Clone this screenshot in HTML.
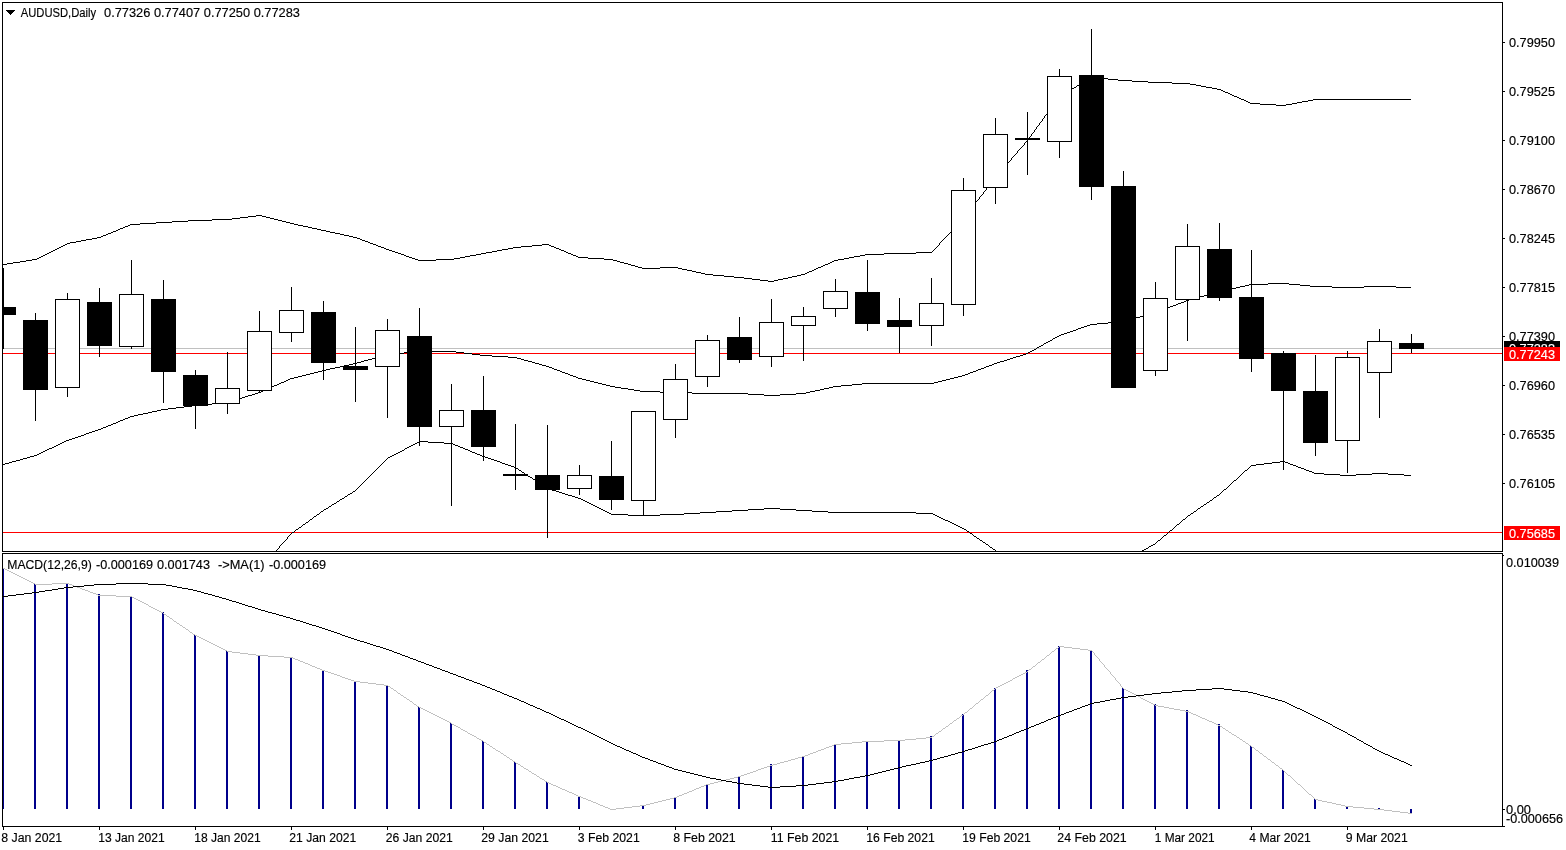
<!DOCTYPE html>
<html lang="en"><head><meta charset="utf-8"><title>AUDUSD,Daily</title>
<style>
html,body{margin:0;padding:0;background:#fff;}
body{width:1566px;height:850px;overflow:hidden;position:relative;}
svg{position:absolute;left:0;top:0;display:block;}
text{font-family:"Liberation Sans",sans-serif;font-size:12.5px;fill:#000;stroke:#000;stroke-width:0.15px;}
.ln{fill:none;stroke:#000;stroke-width:1;shape-rendering:crispEdges;}
.gl{fill:none;stroke:#c0c0c0;stroke-width:1;shape-rendering:crispEdges;}
.rl{fill:none;stroke:#ff0000;stroke-width:1;shape-rendering:crispEdges;}
.cb,.pb{fill:#000;shape-rendering:crispEdges;}
.pg{fill:#c0c0c0;shape-rendering:crispEdges;}
.cw{fill:#fff;stroke:#000;stroke-width:1;shape-rendering:crispEdges;}
.hb{fill:#00008b;shape-rendering:crispEdges;}
.wt{fill:#fff;stroke:#fff;}
</style></head><body>
<svg width="1566" height="850" viewBox="0 0 1566 850">
<defs>
<clipPath id="cm"><rect x="3" y="3" width="1499" height="548"/></clipPath>
<clipPath id="cd"><rect x="3" y="554" width="1499" height="272"/></clipPath>
</defs>
<rect x="0" y="0" width="1566" height="850" fill="#fff"/>

<g clip-path="url(#cm)">
<line class="gl" x1="3" y1="348.5" x2="1502" y2="348.5"/>
<line class="rl" x1="3" y1="353.5" x2="1502" y2="353.5"/>
<line class="rl" x1="3" y1="532.5" x2="1502" y2="532.5"/>
<path class="pb" d="M3 264h4v1h-4zM7 263h6v1h-6zM13 262h7v1h-7zM20 261h6v1h-6zM26 260h6v1h-6zM32 259h5v1h-5zM37 258h2v1h-2zM39 257h2v1h-2zM41 256h2v1h-2zM43 255h2v1h-2zM45 254h2v1h-2zM47 253h2v1h-2zM49 252h2v1h-2zM51 251h2v1h-2zM53 250h2v1h-2zM55 249h2v1h-2zM57 248h2v1h-2zM59 247h2v1h-2zM61 246h2v1h-2zM63 245h2v1h-2zM65 244h2v1h-2zM67 243h3v1h-3zM70 242h6v1h-6zM76 241h5v1h-5zM81 240h5v1h-5zM86 239h6v1h-6zM92 238h5v1h-5zM97 237h4v1h-4zM101 236h2v1h-2zM103 235h3v1h-3zM106 234h2v1h-2zM108 233h3v1h-3zM111 232h2v1h-2zM113 231h3v1h-3zM116 230h2v1h-2zM118 229h2v1h-2zM120 228h3v1h-3zM123 227h2v1h-2zM125 226h3v1h-3zM128 225h2v1h-2zM130 224h10v1h-10zM140 223h16v1h-16zM156 222h16v1h-16zM172 221h16v1h-16zM188 220h24v1h-24zM212 219h20v1h-20zM232 218h8v1h-8zM240 217h8v1h-8zM248 216h8v1h-8zM256 215h6v1h-6zM262 216h4v1h-4zM266 217h4v1h-4zM270 218h4v1h-4zM274 219h4v1h-4zM278 220h4v1h-4zM282 221h4v1h-4zM286 222h4v1h-4zM290 223h4v1h-4zM294 224h4v1h-4zM298 225h5v1h-5zM303 226h5v1h-5zM308 227h4v1h-4zM312 228h5v1h-5zM317 229h4v1h-4zM321 230h5v1h-5zM326 231h4v1h-4zM330 232h5v1h-5zM335 233h5v1h-5zM340 234h4v1h-4zM344 235h5v1h-5zM349 236h4v1h-4zM353 237h4v1h-4zM357 238h3v1h-3zM360 239h2v1h-2zM362 240h3v1h-3zM365 241h3v1h-3zM368 242h2v1h-2zM370 243h3v1h-3zM373 244h3v1h-3zM376 245h2v1h-2zM378 246h3v1h-3zM381 247h3v1h-3zM384 248h2v1h-2zM386 249h3v1h-3zM389 250h3v1h-3zM392 251h3v1h-3zM395 252h3v1h-3zM398 253h3v1h-3zM401 254h3v1h-3zM404 255h2v1h-2zM406 256h3v1h-3zM409 257h3v1h-3zM412 258h3v1h-3zM415 259h3v1h-3zM418 260h18v1h-18zM436 259h18v1h-18zM454 258h6v1h-6zM460 257h5v1h-5zM465 256h5v1h-5zM470 255h6v1h-6zM476 254h5v1h-5zM481 253h5v1h-5zM486 252h6v1h-6zM492 251h5v1h-5zM497 250h5v1h-5zM502 249h6v1h-6zM508 248h5v1h-5zM513 247h8v1h-8zM521 246h11v1h-11zM532 245h10v1h-10zM542 244h7v1h-7zM549 245h2v1h-2zM551 246h3v1h-3zM554 247h2v1h-2zM556 248h3v1h-3zM559 249h2v1h-2zM561 250h3v1h-3zM564 251h2v1h-2zM566 252h2v1h-2zM568 253h3v1h-3zM571 254h2v1h-2zM573 255h3v1h-3zM576 256h2v1h-2zM578 257h10v1h-10zM588 258h16v1h-16zM604 259h9v1h-9zM613 260h4v1h-4zM617 261h3v1h-3zM620 262h4v1h-4zM624 263h4v1h-4zM628 264h3v1h-3zM631 265h4v1h-4zM635 266h3v1h-3zM638 267h4v1h-4zM642 268h18v1h-18zM660 267h18v1h-18zM678 268h4v1h-4zM682 269h5v1h-5zM687 270h5v1h-5zM692 271h4v1h-4zM696 272h5v1h-5zM701 273h4v1h-4zM705 274h8v1h-8zM713 275h11v1h-11zM724 276h10v1h-10zM734 277h10v1h-10zM744 278h8v1h-8zM752 279h8v1h-8zM760 280h8v1h-8zM768 281h6v1h-6zM774 280h4v1h-4zM778 279h5v1h-5zM783 278h5v1h-5zM788 277h4v1h-4zM792 276h5v1h-5zM797 275h4v1h-4zM801 274h4v1h-4zM805 273h2v1h-2zM807 272h2v1h-2zM809 271h3v1h-3zM812 270h2v1h-2zM814 269h2v1h-2zM816 268h2v1h-2zM818 267h3v1h-3zM821 266h2v1h-2zM823 265h2v1h-2zM825 264h3v1h-3zM828 263h2v1h-2zM830 262h2v1h-2zM832 261h2v1h-2zM834 260h4v1h-4zM838 259h6v1h-6zM844 258h5v1h-5zM849 257h5v1h-5zM854 256h6v1h-6zM860 255h5v1h-5zM865 254h19v1h-19zM884 253h32v1h-32zM916 252h16v1h-16zM932 251h1v1h-1zM933 250h1v1h-1zM934 249h1v1h-1zM935 248h1v1h-1zM936 247h1v1h-1zM937 246h1v1h-1zM938 245h1v1h-1zM939 243h1v2h-1zM940 242h1v1h-1zM941 241h1v1h-1zM942 240h1v1h-1zM943 239h1v1h-1zM944 238h1v1h-1zM945 237h1v1h-1zM946 236h1v1h-1zM947 235h1v1h-1zM948 234h1v1h-1zM949 233h1v1h-1zM950 232h1v1h-1zM951 231h1v1h-1zM952 230h1v1h-1zM953 229h1v1h-1zM954 228h1v1h-1zM955 226h1v2h-1zM956 225h1v1h-1zM957 224h1v1h-1zM958 223h1v1h-1zM959 222h1v1h-1zM960 221h1v1h-1zM961 220h1v1h-1zM962 219h1v1h-1zM963 218h1v1h-1zM964 217h1v1h-1zM965 215h1v2h-1zM966 214h1v1h-1zM967 213h1v1h-1zM968 211h1v2h-1zM969 210h1v1h-1zM970 209h1v1h-1zM971 208h1v1h-1zM972 206h1v2h-1zM973 205h1v1h-1zM974 204h1v1h-1zM975 202h1v2h-1zM976 201h1v1h-1zM977 200h1v1h-1zM978 199h1v1h-1zM979 197h1v2h-1zM980 196h1v1h-1zM981 195h1v1h-1zM982 194h1v1h-1zM983 192h1v2h-1zM984 191h1v1h-1zM985 190h1v1h-1zM986 188h1v2h-1zM987 187h1v1h-1zM988 186h1v1h-1zM989 185h1v1h-1zM990 183h1v2h-1zM991 182h1v1h-1zM992 181h1v1h-1zM993 179h1v2h-1zM994 178h1v1h-1zM995 177h1v1h-1zM996 176h1v1h-1zM997 175h1v1h-1zM998 173h1v2h-1zM999 172h1v1h-1zM1000 171h1v1h-1zM1001 170h1v1h-1zM1002 169h1v1h-1zM1003 168h1v1h-1zM1004 167h1v1h-1zM1005 165h1v2h-1zM1006 164h1v1h-1zM1007 163h1v1h-1zM1008 162h1v1h-1zM1009 161h1v1h-1zM1010 160h1v1h-1zM1011 158h1v2h-1zM1012 157h1v1h-1zM1013 156h1v1h-1zM1014 155h1v1h-1zM1015 154h1v1h-1zM1016 153h1v1h-1zM1017 151h1v2h-1zM1018 150h1v1h-1zM1019 149h1v1h-1zM1020 148h1v1h-1zM1021 147h1v1h-1zM1022 146h1v1h-1zM1023 145h1v1h-1zM1024 143h1v2h-1zM1025 142h1v1h-1zM1026 141h1v1h-1zM1027 140h1v1h-1zM1028 138h1v2h-1zM1029 137h1v1h-1zM1030 136h1v1h-1zM1031 134h1v2h-1zM1032 133h1v1h-1zM1033 132h1v1h-1zM1034 130h1v2h-1zM1035 129h1v1h-1zM1036 127h1v2h-1zM1037 126h1v1h-1zM1038 125h1v1h-1zM1039 123h1v2h-1zM1040 122h1v1h-1zM1041 121h1v1h-1zM1042 119h1v2h-1zM1043 118h1v1h-1zM1044 116h1v2h-1zM1045 115h1v1h-1zM1046 114h1v1h-1zM1047 112h1v2h-1zM1048 111h1v1h-1zM1049 110h1v1h-1zM1050 108h1v2h-1zM1051 107h1v1h-1zM1052 105h1v2h-1zM1053 104h1v1h-1zM1054 103h1v1h-1zM1055 101h1v2h-1zM1056 100h1v1h-1zM1057 99h1v1h-1zM1058 97h1v2h-1zM1059 96h1v1h-1zM1060 95h2v1h-2zM1062 94h2v1h-2zM1064 93h1v1h-1zM1065 92h2v1h-2zM1067 91h2v1h-2zM1069 90h1v1h-1zM1070 89h2v1h-2zM1072 88h2v1h-2zM1074 87h2v1h-2zM1076 86h1v1h-1zM1077 85h2v1h-2zM1079 84h2v1h-2zM1081 83h1v1h-1zM1082 82h2v1h-2zM1084 81h2v1h-2zM1086 80h1v1h-1zM1087 79h2v1h-2zM1089 78h2v1h-2zM1091 77h6v1h-6zM1097 78h11v1h-11zM1108 79h10v1h-10zM1118 80h14v1h-14zM1132 81h16v1h-16zM1148 82h24v1h-24zM1172 83h18v1h-18zM1190 84h6v1h-6zM1196 85h5v1h-5zM1201 86h5v1h-5zM1206 87h6v1h-6zM1212 88h5v1h-5zM1217 89h4v1h-4zM1221 90h2v1h-2zM1223 91h2v1h-2zM1225 92h3v1h-3zM1228 93h2v1h-2zM1230 94h2v1h-2zM1232 95h2v1h-2zM1234 96h3v1h-3zM1237 97h2v1h-2zM1239 98h2v1h-2zM1241 99h3v1h-3zM1244 100h2v1h-2zM1246 101h2v1h-2zM1248 102h2v1h-2zM1250 103h10v1h-10zM1260 104h16v1h-16zM1276 105h10v1h-10zM1286 104h6v1h-6zM1292 103h5v1h-5zM1297 102h5v1h-5zM1302 101h6v1h-6zM1308 100h5v1h-5zM1313 99h98v1h-98z"/>
<path class="pb" d="M3 464h2v1h-2zM5 463h4v1h-4zM9 462h3v1h-3zM12 461h4v1h-4zM16 460h4v1h-4zM20 459h3v1h-3zM23 458h4v1h-4zM27 457h3v1h-3zM30 456h4v1h-4zM34 455h3v1h-3zM37 454h2v1h-2zM39 453h2v1h-2zM41 452h2v1h-2zM43 451h2v1h-2zM45 450h2v1h-2zM47 449h2v1h-2zM49 448h3v1h-3zM52 447h2v1h-2zM54 446h2v1h-2zM56 445h2v1h-2zM58 444h2v1h-2zM60 443h2v1h-2zM62 442h2v1h-2zM64 441h2v1h-2zM66 440h3v1h-3zM69 439h3v1h-3zM72 438h3v1h-3zM75 437h3v1h-3zM78 436h3v1h-3zM81 435h3v1h-3zM84 434h2v1h-2zM86 433h3v1h-3zM89 432h3v1h-3zM92 431h3v1h-3zM95 430h3v1h-3zM98 429h3v1h-3zM101 428h2v1h-2zM103 427h3v1h-3zM106 426h2v1h-2zM108 425h3v1h-3zM111 424h2v1h-2zM113 423h3v1h-3zM116 422h2v1h-2zM118 421h2v1h-2zM120 420h3v1h-3zM123 419h2v1h-2zM125 418h3v1h-3zM128 417h2v1h-2zM130 416h4v1h-4zM134 415h4v1h-4zM138 414h5v1h-5zM143 413h5v1h-5zM148 412h4v1h-4zM152 411h5v1h-5zM157 410h4v1h-4zM161 409h7v1h-7zM168 408h8v1h-8zM176 407h8v1h-8zM184 406h8v1h-8zM192 405h9v1h-9zM201 404h11v1h-11zM212 403h10v1h-10zM222 402h7v1h-7zM229 401h3v1h-3zM232 400h4v1h-4zM236 399h3v1h-3zM239 398h3v1h-3zM242 397h3v1h-3zM245 396h3v1h-3zM248 395h4v1h-4zM252 394h3v1h-3zM255 393h3v1h-3zM258 392h3v1h-3zM261 391h2v1h-2zM263 390h2v1h-2zM265 389h3v1h-3zM268 388h2v1h-2zM270 387h2v1h-2zM272 386h2v1h-2zM274 385h3v1h-3zM277 384h2v1h-2zM279 383h2v1h-2zM281 382h3v1h-3zM284 381h2v1h-2zM286 380h2v1h-2zM288 379h2v1h-2zM290 378h4v1h-4zM294 377h4v1h-4zM298 376h4v1h-4zM302 375h4v1h-4zM306 374h4v1h-4zM310 373h4v1h-4zM314 372h4v1h-4zM318 371h4v1h-4zM322 370h4v1h-4zM326 369h4v1h-4zM330 368h5v1h-5zM335 367h5v1h-5zM340 366h4v1h-4zM344 365h5v1h-5zM349 364h4v1h-4zM353 363h4v1h-4zM357 362h4v1h-4zM361 361h3v1h-3zM364 360h4v1h-4zM368 359h4v1h-4zM372 358h3v1h-3zM375 357h4v1h-4zM379 356h3v1h-3zM382 355h4v1h-4zM386 354h7v1h-7zM393 353h11v1h-11zM404 352h10v1h-10zM414 351h42v1h-42zM456 352h8v1h-8zM464 353h8v1h-8zM472 354h8v1h-8zM480 355h12v1h-12zM492 356h16v1h-16zM508 357h9v1h-9zM517 358h4v1h-4zM521 359h3v1h-3zM524 360h4v1h-4zM528 361h4v1h-4zM532 362h3v1h-3zM535 363h4v1h-4zM539 364h3v1h-3zM542 365h4v1h-4zM546 366h3v1h-3zM549 367h3v1h-3zM552 368h2v1h-2zM554 369h3v1h-3zM557 370h3v1h-3zM560 371h2v1h-2zM562 372h3v1h-3zM565 373h3v1h-3zM568 374h2v1h-2zM570 375h3v1h-3zM573 376h3v1h-3zM576 377h2v1h-2zM578 378h4v1h-4zM582 379h4v1h-4zM586 380h4v1h-4zM590 381h4v1h-4zM594 382h4v1h-4zM598 383h4v1h-4zM602 384h4v1h-4zM606 385h4v1h-4zM610 386h5v1h-5zM615 387h6v1h-6zM621 388h7v1h-7zM628 389h6v1h-6zM634 390h6v1h-6zM640 391h20v1h-20zM660 392h32v1h-32zM692 393h56v1h-56zM748 394h16v1h-16zM764 395h16v1h-16zM780 394h16v1h-16zM796 393h10v1h-10zM806 392h4v1h-4zM810 391h5v1h-5zM815 390h5v1h-5zM820 389h4v1h-4zM824 388h5v1h-5zM829 387h4v1h-4zM833 386h8v1h-8zM841 385h11v1h-11zM852 384h10v1h-10zM862 383h72v1h-72zM934 382h4v1h-4zM938 381h4v1h-4zM942 380h4v1h-4zM946 379h4v1h-4zM950 378h4v1h-4zM954 377h4v1h-4zM958 376h4v1h-4zM962 375h3v1h-3zM965 374h3v1h-3zM968 373h2v1h-2zM970 372h3v1h-3zM973 371h3v1h-3zM976 370h2v1h-2zM978 369h3v1h-3zM981 368h3v1h-3zM984 367h2v1h-2zM986 366h3v1h-3zM989 365h3v1h-3zM992 364h2v1h-2zM994 363h3v1h-3zM997 362h3v1h-3zM1000 361h4v1h-4zM1004 360h3v1h-3zM1007 359h3v1h-3zM1010 358h3v1h-3zM1013 357h3v1h-3zM1016 356h4v1h-4zM1020 355h3v1h-3zM1023 354h3v1h-3zM1026 353h2v1h-2zM1028 352h2v1h-2zM1030 351h2v1h-2zM1032 350h2v1h-2zM1034 349h2v1h-2zM1036 348h1v1h-1zM1037 347h2v1h-2zM1039 346h2v1h-2zM1041 345h2v1h-2zM1043 344h1v1h-1zM1044 343h2v1h-2zM1046 342h2v1h-2zM1048 341h2v1h-2zM1050 340h2v1h-2zM1052 339h1v1h-1zM1053 338h2v1h-2zM1055 337h2v1h-2zM1057 336h2v1h-2zM1059 335h2v1h-2zM1061 334h3v1h-3zM1064 333h3v1h-3zM1067 332h3v1h-3zM1070 331h3v1h-3zM1073 330h3v1h-3zM1076 329h2v1h-2zM1078 328h3v1h-3zM1081 327h3v1h-3zM1084 326h3v1h-3zM1087 325h3v1h-3zM1090 324h7v1h-7zM1097 323h11v1h-11zM1108 322h10v1h-10zM1118 321h7v1h-7zM1125 320h4v1h-4zM1129 319h3v1h-3zM1132 318h4v1h-4zM1136 317h4v1h-4zM1140 316h3v1h-3zM1143 315h4v1h-4zM1147 314h3v1h-3zM1150 313h4v1h-4zM1154 312h3v1h-3zM1157 311h3v1h-3zM1160 310h2v1h-2zM1162 309h3v1h-3zM1165 308h3v1h-3zM1168 307h2v1h-2zM1170 306h3v1h-3zM1173 305h3v1h-3zM1176 304h2v1h-2zM1178 303h3v1h-3zM1181 302h3v1h-3zM1184 301h2v1h-2zM1186 300h3v1h-3zM1189 299h4v1h-4zM1193 298h3v1h-3zM1196 297h4v1h-4zM1200 296h4v1h-4zM1204 295h3v1h-3zM1207 294h4v1h-4zM1211 293h3v1h-3zM1214 292h4v1h-4zM1218 291h4v1h-4zM1222 290h4v1h-4zM1226 289h5v1h-5zM1231 288h5v1h-5zM1236 287h4v1h-4zM1240 286h5v1h-5zM1245 285h4v1h-4zM1249 284h19v1h-19zM1268 283h21v1h-21zM1289 284h11v1h-11zM1300 285h10v1h-10zM1310 286h22v1h-22zM1332 287h32v1h-32zM1364 286h32v1h-32zM1396 287h15v1h-15z"/>
<path class="pb" d="M276 550h1v1h-1zM277 549h1v1h-1zM278 548h1v1h-1zM279 546h1v2h-1zM280 545h1v1h-1zM281 544h1v1h-1zM282 543h1v1h-1zM283 542h1v1h-1zM284 541h1v1h-1zM285 540h1v1h-1zM286 539h1v1h-1zM287 537h1v2h-1zM288 536h1v1h-1zM289 535h1v1h-1zM290 534h1v1h-1zM291 533h1v1h-1zM292 532h2v1h-2zM294 531h1v1h-1zM295 530h1v1h-1zM296 529h2v1h-2zM298 528h1v1h-1zM299 527h2v1h-2zM301 526h1v1h-1zM302 525h1v1h-1zM303 524h2v1h-2zM305 523h1v1h-1zM306 522h2v1h-2zM308 521h1v1h-1zM309 520h1v1h-1zM310 519h2v1h-2zM312 518h1v1h-1zM313 517h1v1h-1zM314 516h2v1h-2zM316 515h1v1h-1zM317 514h2v1h-2zM319 513h1v1h-1zM320 512h1v1h-1zM321 511h2v1h-2zM323 510h1v1h-1zM324 509h2v1h-2zM326 508h2v1h-2zM328 507h1v1h-1zM329 506h2v1h-2zM331 505h1v1h-1zM332 504h2v1h-2zM334 503h2v1h-2zM336 502h1v1h-1zM337 501h2v1h-2zM339 500h1v1h-1zM340 499h2v1h-2zM342 498h2v1h-2zM344 497h1v1h-1zM345 496h2v1h-2zM347 495h1v1h-1zM348 494h2v1h-2zM350 493h2v1h-2zM352 492h1v1h-1zM353 491h2v1h-2zM355 490h1v1h-1zM356 489h1v1h-1zM357 488h1v1h-1zM358 487h1v1h-1zM359 486h1v1h-1zM360 485h1v1h-1zM361 484h1v1h-1zM362 483h1v1h-1zM363 482h1v1h-1zM364 481h1v1h-1zM365 480h1v1h-1zM366 479h1v1h-1zM367 478h1v1h-1zM368 477h1v1h-1zM369 476h1v1h-1zM370 475h1v1h-1zM371 474h1v1h-1zM372 473h1v1h-1zM373 472h1v1h-1zM374 471h1v1h-1zM375 470h1v1h-1zM376 469h1v1h-1zM377 468h1v1h-1zM378 467h1v1h-1zM379 466h1v1h-1zM380 465h1v1h-1zM381 464h1v1h-1zM382 463h1v1h-1zM383 462h1v1h-1zM384 461h1v1h-1zM385 460h1v1h-1zM386 459h1v1h-1zM387 458h1v1h-1zM388 457h2v1h-2zM390 456h2v1h-2zM392 455h2v1h-2zM394 454h2v1h-2zM396 453h2v1h-2zM398 452h2v1h-2zM400 451h2v1h-2zM402 450h2v1h-2zM404 449h1v1h-1zM405 448h2v1h-2zM407 447h2v1h-2zM409 446h2v1h-2zM411 445h2v1h-2zM413 444h2v1h-2zM415 443h2v1h-2zM417 442h2v1h-2zM419 441h9v1h-9zM428 442h16v1h-16zM444 443h9v1h-9zM453 444h2v1h-2zM455 445h3v1h-3zM458 446h2v1h-2zM460 447h3v1h-3zM463 448h2v1h-2zM465 449h3v1h-3zM468 450h2v1h-2zM470 451h2v1h-2zM472 452h3v1h-3zM475 453h2v1h-2zM477 454h3v1h-3zM480 455h2v1h-2zM482 456h3v1h-3zM485 457h3v1h-3zM488 458h3v1h-3zM491 459h3v1h-3zM494 460h3v1h-3zM497 461h3v1h-3zM500 462h2v1h-2zM502 463h3v1h-3zM505 464h3v1h-3zM508 465h3v1h-3zM511 466h3v1h-3zM514 467h2v1h-2zM516 468h2v1h-2zM518 469h1v1h-1zM519 470h2v1h-2zM521 471h1v1h-1zM522 472h2v1h-2zM524 473h1v1h-1zM525 474h2v1h-2zM527 475h1v1h-1zM528 476h2v1h-2zM530 477h2v1h-2zM532 478h1v1h-1zM533 479h2v1h-2zM535 480h1v1h-1zM536 481h2v1h-2zM538 482h1v1h-1zM539 483h2v1h-2zM541 484h1v1h-1zM542 485h2v1h-2zM544 486h1v1h-1zM545 487h2v1h-2zM547 488h2v1h-2zM549 489h3v1h-3zM552 490h4v1h-4zM556 491h3v1h-3zM559 492h3v1h-3zM562 493h3v1h-3zM565 494h3v1h-3zM568 495h4v1h-4zM572 496h3v1h-3zM575 497h3v1h-3zM578 498h3v1h-3zM581 499h2v1h-2zM583 500h2v1h-2zM585 501h2v1h-2zM587 502h2v1h-2zM589 503h2v1h-2zM591 504h2v1h-2zM593 505h2v1h-2zM595 506h2v1h-2zM597 507h2v1h-2zM599 508h2v1h-2zM601 509h2v1h-2zM603 510h2v1h-2zM605 511h2v1h-2zM607 512h2v1h-2zM609 513h2v1h-2zM611 514h17v1h-17zM628 515h32v1h-32zM660 514h24v1h-24zM684 513h16v1h-16zM700 512h16v1h-16zM716 511h16v1h-16zM732 510h16v1h-16zM748 509h16v1h-16zM764 508h16v1h-16zM780 509h16v1h-16zM796 510h16v1h-16zM812 511h16v1h-16zM828 512h88v1h-88zM916 513h17v1h-17zM933 514h2v1h-2zM935 515h2v1h-2zM937 516h2v1h-2zM939 517h2v1h-2zM941 518h2v1h-2zM943 519h2v1h-2zM945 520h3v1h-3zM948 521h2v1h-2zM950 522h2v1h-2zM952 523h2v1h-2zM954 524h2v1h-2zM956 525h2v1h-2zM958 526h2v1h-2zM960 527h2v1h-2zM962 528h2v1h-2zM964 529h2v1h-2zM966 530h1v1h-1zM967 531h2v1h-2zM969 532h1v1h-1zM970 533h2v1h-2zM972 534h1v1h-1zM973 535h1v1h-1zM974 536h2v1h-2zM976 537h1v1h-1zM977 538h2v1h-2zM979 539h1v1h-1zM980 540h2v1h-2zM982 541h1v1h-1zM983 542h2v1h-2zM985 543h1v1h-1zM986 544h2v1h-2zM988 545h1v1h-1zM989 546h1v1h-1zM990 547h2v1h-2zM992 548h1v1h-1zM993 549h2v1h-2zM995 550h1v1h-1zM1142 550h2v1h-2zM1144 549h2v1h-2zM1146 548h2v1h-2zM1148 547h1v1h-1zM1149 546h2v1h-2zM1151 545h2v1h-2zM1153 544h2v1h-2zM1155 543h1v1h-1zM1156 542h1v1h-1zM1157 541h1v1h-1zM1158 540h2v1h-2zM1160 539h1v1h-1zM1161 538h1v1h-1zM1162 537h1v1h-1zM1163 536h1v1h-1zM1164 535h2v1h-2zM1166 534h1v1h-1zM1167 533h1v1h-1zM1168 532h1v1h-1zM1169 531h1v1h-1zM1170 530h2v1h-2zM1172 529h1v1h-1zM1173 528h1v1h-1zM1174 527h1v1h-1zM1175 526h1v1h-1zM1176 525h1v1h-1zM1177 524h2v1h-2zM1179 523h1v1h-1zM1180 522h1v1h-1zM1181 521h1v1h-1zM1182 520h1v1h-1zM1183 519h2v1h-2zM1185 518h1v1h-1zM1186 517h1v1h-1zM1187 516h1v1h-1zM1188 515h2v1h-2zM1190 514h1v1h-1zM1191 513h2v1h-2zM1193 512h1v1h-1zM1194 511h2v1h-2zM1196 510h1v1h-1zM1197 509h1v1h-1zM1198 508h2v1h-2zM1200 507h1v1h-1zM1201 506h2v1h-2zM1203 505h1v1h-1zM1204 504h2v1h-2zM1206 503h1v1h-1zM1207 502h2v1h-2zM1209 501h1v1h-1zM1210 500h2v1h-2zM1212 499h1v1h-1zM1213 498h1v1h-1zM1214 497h2v1h-2zM1216 496h1v1h-1zM1217 495h2v1h-2zM1219 494h1v1h-1zM1220 493h1v1h-1zM1221 492h1v1h-1zM1222 491h1v1h-1zM1223 490h1v1h-1zM1224 489h2v1h-2zM1226 488h1v1h-1zM1227 487h1v1h-1zM1228 486h1v1h-1zM1229 485h1v1h-1zM1230 484h1v1h-1zM1231 483h1v1h-1zM1232 482h1v1h-1zM1233 481h1v1h-1zM1234 480h2v1h-2zM1236 479h1v1h-1zM1237 478h1v1h-1zM1238 477h1v1h-1zM1239 476h1v1h-1zM1240 475h1v1h-1zM1241 474h1v1h-1zM1242 473h1v1h-1zM1243 472h1v1h-1zM1244 471h1v1h-1zM1245 470h2v1h-2zM1247 469h1v1h-1zM1248 468h1v1h-1zM1249 467h1v1h-1zM1250 466h1v1h-1zM1251 465h5v1h-5zM1256 464h8v1h-8zM1264 463h8v1h-8zM1272 462h8v1h-8zM1280 461h5v1h-5zM1285 462h3v1h-3zM1288 463h2v1h-2zM1290 464h3v1h-3zM1293 465h3v1h-3zM1296 466h2v1h-2zM1298 467h3v1h-3zM1301 468h3v1h-3zM1304 469h2v1h-2zM1306 470h3v1h-3zM1309 471h3v1h-3zM1312 472h2v1h-2zM1314 473h10v1h-10zM1324 474h16v1h-16zM1340 475h16v1h-16zM1356 474h16v1h-16zM1372 473h16v1h-16zM1388 474h16v1h-16zM1404 475h7v1h-7z"/>
<rect class="cb" x="3" y="268" width="1" height="81"/>
<rect class="cb" x="3" y="307" width="13" height="8"/>
<rect class="cb" x="35" y="313" width="1" height="108"/>
<rect class="cb" x="23" y="320" width="25" height="70"/>
<rect class="cb" x="67" y="293" width="1" height="104"/>
<rect class="cw" x="55.5" y="299.5" width="24" height="88"/>
<rect class="cb" x="99" y="288" width="1" height="69"/>
<rect class="cb" x="87" y="302" width="25" height="44"/>
<rect class="cb" x="131" y="260" width="1" height="89"/>
<rect class="cw" x="119.5" y="294.5" width="24" height="52"/>
<rect class="cb" x="163" y="280" width="1" height="123"/>
<rect class="cb" x="151" y="299" width="25" height="73"/>
<rect class="cb" x="195" y="370" width="1" height="59"/>
<rect class="cb" x="183" y="375" width="25" height="31"/>
<rect class="cb" x="227" y="352" width="1" height="62"/>
<rect class="cw" x="215.5" y="388.5" width="24" height="15"/>
<rect class="cb" x="259" y="311" width="1" height="82"/>
<rect class="cw" x="247.5" y="331.5" width="24" height="59"/>
<rect class="cb" x="291" y="287" width="1" height="55"/>
<rect class="cw" x="279.5" y="310.5" width="24" height="22"/>
<rect class="cb" x="323" y="301" width="1" height="79"/>
<rect class="cb" x="311" y="312" width="25" height="51"/>
<rect class="cb" x="355" y="327" width="1" height="75"/>
<rect class="cb" x="343" y="366" width="25" height="4"/>
<rect class="cb" x="387" y="319" width="1" height="99"/>
<rect class="cw" x="375.5" y="330.5" width="24" height="36"/>
<rect class="cb" x="419" y="308" width="1" height="138"/>
<rect class="cb" x="407" y="336" width="25" height="91"/>
<rect class="cb" x="451" y="384" width="1" height="122"/>
<rect class="cw" x="439.5" y="410.5" width="24" height="16"/>
<rect class="cb" x="483" y="376" width="1" height="85"/>
<rect class="cb" x="471" y="410" width="25" height="37"/>
<rect class="cb" x="515" y="424" width="1" height="66"/>
<rect class="cb" x="503" y="474" width="25" height="2"/>
<rect class="cb" x="547" y="425" width="1" height="113"/>
<rect class="cb" x="535" y="475" width="25" height="15"/>
<rect class="cb" x="579" y="465" width="1" height="30"/>
<rect class="cw" x="567.5" y="475.5" width="24" height="13"/>
<rect class="cb" x="611" y="441" width="1" height="69"/>
<rect class="cb" x="599" y="476" width="25" height="24"/>
<rect class="cb" x="643" y="411" width="1" height="104"/>
<rect class="cw" x="631.5" y="411.5" width="24" height="89"/>
<rect class="cb" x="675" y="364" width="1" height="74"/>
<rect class="cw" x="663.5" y="379.5" width="24" height="40"/>
<rect class="cb" x="707" y="335" width="1" height="52"/>
<rect class="cw" x="695.5" y="340.5" width="24" height="36"/>
<rect class="cb" x="739" y="317" width="1" height="46"/>
<rect class="cb" x="727" y="337" width="25" height="23"/>
<rect class="cb" x="771" y="299" width="1" height="68"/>
<rect class="cw" x="759.5" y="322.5" width="24" height="34"/>
<rect class="cb" x="803" y="307" width="1" height="54"/>
<rect class="cw" x="791.5" y="316.5" width="24" height="9"/>
<rect class="cb" x="835" y="279" width="1" height="38"/>
<rect class="cw" x="823.5" y="291.5" width="24" height="17"/>
<rect class="cb" x="867" y="260" width="1" height="71"/>
<rect class="cb" x="855" y="292" width="25" height="32"/>
<rect class="cb" x="899" y="298" width="1" height="55"/>
<rect class="cb" x="887" y="320" width="25" height="7"/>
<rect class="cb" x="931" y="278" width="1" height="68"/>
<rect class="cw" x="919.5" y="303.5" width="24" height="22"/>
<rect class="cb" x="963" y="178" width="1" height="138"/>
<rect class="cw" x="951.5" y="190.5" width="24" height="114"/>
<rect class="cb" x="995" y="118" width="1" height="86"/>
<rect class="cw" x="983.5" y="134.5" width="24" height="53"/>
<rect class="cb" x="1027" y="112" width="1" height="63"/>
<rect class="cb" x="1015" y="138" width="25" height="2"/>
<rect class="cb" x="1059" y="69" width="1" height="89"/>
<rect class="cw" x="1047.5" y="76.5" width="24" height="65"/>
<rect class="cb" x="1091" y="29" width="1" height="171"/>
<rect class="cb" x="1079" y="75" width="25" height="112"/>
<rect class="cb" x="1123" y="171" width="1" height="217"/>
<rect class="cb" x="1111" y="186" width="25" height="202"/>
<rect class="cb" x="1155" y="282" width="1" height="94"/>
<rect class="cw" x="1143.5" y="298.5" width="24" height="72"/>
<rect class="cb" x="1187" y="224" width="1" height="117"/>
<rect class="cw" x="1175.5" y="246.5" width="24" height="53"/>
<rect class="cb" x="1219" y="223" width="1" height="78"/>
<rect class="cb" x="1207" y="249" width="25" height="49"/>
<rect class="cb" x="1251" y="250" width="1" height="122"/>
<rect class="cb" x="1239" y="297" width="25" height="62"/>
<rect class="cb" x="1283" y="351" width="1" height="119"/>
<rect class="cb" x="1271" y="353" width="25" height="38"/>
<rect class="cb" x="1315" y="355" width="1" height="101"/>
<rect class="cb" x="1303" y="391" width="25" height="52"/>
<rect class="cb" x="1347" y="351" width="1" height="122"/>
<rect class="cw" x="1335.5" y="357.5" width="24" height="83"/>
<rect class="cb" x="1379" y="329" width="1" height="89"/>
<rect class="cw" x="1367.5" y="341.5" width="24" height="31"/>
<rect class="cb" x="1411" y="334" width="1" height="19"/>
<rect class="cb" x="1399" y="343" width="25" height="6"/>
</g>
<g clip-path="url(#cd)">
<rect class="hb" x="2" y="568" width="2" height="241"/>
<rect class="hb" x="34" y="584" width="2" height="225"/>
<rect class="hb" x="66" y="583" width="2" height="226"/>
<rect class="hb" x="98" y="594" width="2" height="215"/>
<rect class="hb" x="130" y="596" width="2" height="213"/>
<rect class="hb" x="162" y="612" width="2" height="197"/>
<rect class="hb" x="194" y="635" width="2" height="174"/>
<rect class="hb" x="226" y="651" width="2" height="158"/>
<rect class="hb" x="258" y="655" width="2" height="154"/>
<rect class="hb" x="290" y="657" width="2" height="152"/>
<rect class="hb" x="322" y="670" width="2" height="139"/>
<rect class="hb" x="354" y="681" width="2" height="128"/>
<rect class="hb" x="386" y="685" width="2" height="124"/>
<rect class="hb" x="418" y="707" width="2" height="102"/>
<rect class="hb" x="450" y="723" width="2" height="86"/>
<rect class="hb" x="482" y="741" width="2" height="68"/>
<rect class="hb" x="514" y="762" width="2" height="47"/>
<rect class="hb" x="546" y="782" width="2" height="27"/>
<rect class="hb" x="578" y="796" width="2" height="13"/>
<rect class="hb" x="642" y="805" width="2" height="4"/>
<rect class="hb" x="674" y="797" width="2" height="12"/>
<rect class="hb" x="706" y="784" width="2" height="25"/>
<rect class="hb" x="738" y="776" width="2" height="33"/>
<rect class="hb" x="770" y="764" width="2" height="45"/>
<rect class="hb" x="802" y="756" width="2" height="53"/>
<rect class="hb" x="834" y="744" width="2" height="65"/>
<rect class="hb" x="866" y="741" width="2" height="68"/>
<rect class="hb" x="898" y="740" width="2" height="69"/>
<rect class="hb" x="930" y="736" width="2" height="73"/>
<rect class="hb" x="962" y="714" width="2" height="95"/>
<rect class="hb" x="994" y="688" width="2" height="121"/>
<rect class="hb" x="1026" y="670" width="2" height="139"/>
<rect class="hb" x="1058" y="646" width="2" height="163"/>
<rect class="hb" x="1090" y="650" width="2" height="159"/>
<rect class="hb" x="1122" y="688" width="2" height="121"/>
<rect class="hb" x="1154" y="704" width="2" height="105"/>
<rect class="hb" x="1186" y="710" width="2" height="99"/>
<rect class="hb" x="1218" y="724" width="2" height="85"/>
<rect class="hb" x="1250" y="746" width="2" height="63"/>
<rect class="hb" x="1282" y="770" width="2" height="39"/>
<rect class="hb" x="1314" y="799" width="2" height="10"/>
<rect class="hb" x="1346" y="806" width="2" height="3"/>
<rect class="hb" x="1378" y="808" width="2" height="1"/>
<rect class="hb" x="1410" y="809" width="2" height="5"/>
<path class="pg" d="M3 568h2v1h-2zM5 569h2v1h-2zM7 570h2v1h-2zM9 571h2v1h-2zM11 572h2v1h-2zM13 573h2v1h-2zM15 574h2v1h-2zM17 575h2v1h-2zM19 576h2v1h-2zM21 577h2v1h-2zM23 578h2v1h-2zM25 579h2v1h-2zM27 580h2v1h-2zM29 581h2v1h-2zM31 582h2v1h-2zM33 583h2v1h-2zM35 584h17v1h-17zM52 583h17v1h-17zM69 584h3v1h-3zM72 585h2v1h-2zM74 586h3v1h-3zM77 587h3v1h-3zM80 588h2v1h-2zM82 589h3v1h-3zM85 590h3v1h-3zM88 591h2v1h-2zM90 592h3v1h-3zM93 593h3v1h-3zM96 594h2v1h-2zM98 595h18v1h-18zM116 596h16v1h-16zM132 597h2v1h-2zM134 598h2v1h-2zM136 599h2v1h-2zM138 600h2v1h-2zM140 601h2v1h-2zM142 602h2v1h-2zM144 603h2v1h-2zM146 604h2v1h-2zM148 605h1v1h-1zM149 606h2v1h-2zM151 607h2v1h-2zM153 608h2v1h-2zM155 609h2v1h-2zM157 610h2v1h-2zM159 611h2v1h-2zM161 612h2v1h-2zM163 613h1v1h-1zM164 614h2v1h-2zM166 615h1v1h-1zM167 616h2v1h-2zM169 617h1v1h-1zM170 618h2v1h-2zM172 619h1v1h-1zM173 620h1v1h-1zM174 621h2v1h-2zM176 622h1v1h-1zM177 623h2v1h-2zM179 624h1v1h-1zM180 625h2v1h-2zM182 626h1v1h-1zM183 627h2v1h-2zM185 628h1v1h-1zM186 629h2v1h-2zM188 630h1v1h-1zM189 631h1v1h-1zM190 632h2v1h-2zM192 633h1v1h-1zM193 634h2v1h-2zM195 635h2v1h-2zM197 636h2v1h-2zM199 637h2v1h-2zM201 638h2v1h-2zM203 639h2v1h-2zM205 640h2v1h-2zM207 641h2v1h-2zM209 642h2v1h-2zM211 643h2v1h-2zM213 644h2v1h-2zM215 645h2v1h-2zM217 646h2v1h-2zM219 647h2v1h-2zM221 648h2v1h-2zM223 649h2v1h-2zM225 650h2v1h-2zM227 651h5v1h-5zM232 652h8v1h-8zM240 653h8v1h-8zM248 654h8v1h-8zM256 655h12v1h-12zM268 656h16v1h-16zM284 657h9v1h-9zM293 658h2v1h-2zM295 659h3v1h-3zM298 660h2v1h-2zM300 661h3v1h-3zM303 662h2v1h-2zM305 663h3v1h-3zM308 664h2v1h-2zM310 665h2v1h-2zM312 666h3v1h-3zM315 667h2v1h-2zM317 668h3v1h-3zM320 669h2v1h-2zM322 670h3v1h-3zM325 671h3v1h-3zM328 672h3v1h-3zM331 673h3v1h-3zM334 674h3v1h-3zM337 675h3v1h-3zM340 676h2v1h-2zM342 677h3v1h-3zM345 678h3v1h-3zM348 679h3v1h-3zM351 680h3v1h-3zM354 681h6v1h-6zM360 682h8v1h-8zM368 683h8v1h-8zM376 684h8v1h-8zM384 685h4v1h-4zM388 686h2v1h-2zM390 687h1v1h-1zM391 688h2v1h-2zM393 689h1v1h-1zM394 690h2v1h-2zM396 691h1v1h-1zM397 692h1v1h-1zM398 693h2v1h-2zM400 694h1v1h-1zM401 695h2v1h-2zM403 696h1v1h-1zM404 697h2v1h-2zM406 698h1v1h-1zM407 699h2v1h-2zM409 700h1v1h-1zM410 701h2v1h-2zM412 702h1v1h-1zM413 703h1v1h-1zM414 704h2v1h-2zM416 705h1v1h-1zM417 706h2v1h-2zM419 707h2v1h-2zM421 708h2v1h-2zM423 709h2v1h-2zM425 710h2v1h-2zM427 711h2v1h-2zM429 712h2v1h-2zM431 713h2v1h-2zM433 714h2v1h-2zM435 715h2v1h-2zM437 716h2v1h-2zM439 717h2v1h-2zM441 718h2v1h-2zM443 719h2v1h-2zM445 720h2v1h-2zM447 721h2v1h-2zM449 722h2v1h-2zM451 723h1v1h-1zM452 724h2v1h-2zM454 725h2v1h-2zM456 726h2v1h-2zM458 727h2v1h-2zM460 728h1v1h-1zM461 729h2v1h-2zM463 730h2v1h-2zM465 731h2v1h-2zM467 732h1v1h-1zM468 733h2v1h-2zM470 734h2v1h-2zM472 735h2v1h-2zM474 736h2v1h-2zM476 737h1v1h-1zM477 738h2v1h-2zM479 739h2v1h-2zM481 740h2v1h-2zM483 741h1v1h-1zM484 742h2v1h-2zM486 743h1v1h-1zM487 744h2v1h-2zM489 745h1v1h-1zM490 746h2v1h-2zM492 747h1v1h-1zM493 748h2v1h-2zM495 749h1v1h-1zM496 750h2v1h-2zM498 751h2v1h-2zM500 752h1v1h-1zM501 753h2v1h-2zM503 754h1v1h-1zM504 755h2v1h-2zM506 756h1v1h-1zM507 757h2v1h-2zM509 758h1v1h-1zM510 759h2v1h-2zM512 760h1v1h-1zM513 761h2v1h-2zM515 762h1v1h-1zM516 763h2v1h-2zM518 764h2v1h-2zM520 765h1v1h-1zM521 766h2v1h-2zM523 767h1v1h-1zM524 768h2v1h-2zM526 769h2v1h-2zM528 770h1v1h-1zM529 771h2v1h-2zM531 772h1v1h-1zM532 773h2v1h-2zM534 774h2v1h-2zM536 775h1v1h-1zM537 776h2v1h-2zM539 777h1v1h-1zM540 778h2v1h-2zM542 779h2v1h-2zM544 780h1v1h-1zM545 781h2v1h-2zM547 782h2v1h-2zM549 783h2v1h-2zM551 784h2v1h-2zM553 785h3v1h-3zM556 786h2v1h-2zM558 787h2v1h-2zM560 788h2v1h-2zM562 789h3v1h-3zM565 790h2v1h-2zM567 791h2v1h-2zM569 792h3v1h-3zM572 793h2v1h-2zM574 794h2v1h-2zM576 795h2v1h-2zM578 796h3v1h-3zM581 797h2v1h-2zM583 798h3v1h-3zM586 799h2v1h-2zM588 800h3v1h-3zM591 801h2v1h-2zM593 802h3v1h-3zM596 803h2v1h-2zM598 804h2v1h-2zM600 805h3v1h-3zM603 806h2v1h-2zM605 807h3v1h-3zM608 808h2v1h-2zM610 809h6v1h-6zM616 808h8v1h-8zM624 807h8v1h-8zM632 806h8v1h-8zM640 805h6v1h-6zM646 804h4v1h-4zM650 803h4v1h-4zM654 802h4v1h-4zM658 801h4v1h-4zM662 800h4v1h-4zM666 799h4v1h-4zM670 798h4v1h-4zM674 797h3v1h-3zM677 796h2v1h-2zM679 795h3v1h-3zM682 794h2v1h-2zM684 793h3v1h-3zM687 792h2v1h-2zM689 791h3v1h-3zM692 790h2v1h-2zM694 789h2v1h-2zM696 788h3v1h-3zM699 787h2v1h-2zM701 786h3v1h-3zM704 785h2v1h-2zM706 784h4v1h-4zM710 783h4v1h-4zM714 782h4v1h-4zM718 781h4v1h-4zM722 780h4v1h-4zM726 779h4v1h-4zM730 778h4v1h-4zM734 777h4v1h-4zM738 776h3v1h-3zM741 775h3v1h-3zM744 774h3v1h-3zM747 773h3v1h-3zM750 772h3v1h-3zM753 771h3v1h-3zM756 770h2v1h-2zM758 769h3v1h-3zM761 768h3v1h-3zM764 767h3v1h-3zM767 766h3v1h-3zM770 765h3v1h-3zM773 764h4v1h-4zM777 763h3v1h-3zM780 762h4v1h-4zM784 761h4v1h-4zM788 760h3v1h-3zM791 759h4v1h-4zM795 758h3v1h-3zM798 757h4v1h-4zM802 756h3v1h-3zM805 755h3v1h-3zM808 754h2v1h-2zM810 753h3v1h-3zM813 752h3v1h-3zM816 751h2v1h-2zM818 750h3v1h-3zM821 749h3v1h-3zM824 748h2v1h-2zM826 747h3v1h-3zM829 746h3v1h-3zM832 745h2v1h-2zM834 744h7v1h-7zM841 743h11v1h-11zM852 742h10v1h-10zM862 741h22v1h-22zM884 740h21v1h-21zM905 739h11v1h-11zM916 738h10v1h-10zM926 737h6v1h-6zM932 736h2v1h-2zM934 735h1v1h-1zM935 734h1v1h-1zM936 733h2v1h-2zM938 732h1v1h-1zM939 731h2v1h-2zM941 730h1v1h-1zM942 729h1v1h-1zM943 728h2v1h-2zM945 727h1v1h-1zM946 726h2v1h-2zM948 725h1v1h-1zM949 724h1v1h-1zM950 723h2v1h-2zM952 722h1v1h-1zM953 721h1v1h-1zM954 720h2v1h-2zM956 719h1v1h-1zM957 718h2v1h-2zM959 717h1v1h-1zM960 716h1v1h-1zM961 715h2v1h-2zM963 714h1v1h-1zM964 713h1v1h-1zM965 712h2v1h-2zM967 711h1v1h-1zM968 710h1v1h-1zM969 709h1v1h-1zM970 708h2v1h-2zM972 707h1v1h-1zM973 706h1v1h-1zM974 705h1v1h-1zM975 704h1v1h-1zM976 703h2v1h-2zM978 702h1v1h-1zM979 701h1v1h-1zM980 700h1v1h-1zM981 699h2v1h-2zM983 698h1v1h-1zM984 697h1v1h-1zM985 696h1v1h-1zM986 695h2v1h-2zM988 694h1v1h-1zM989 693h1v1h-1zM990 692h1v1h-1zM991 691h1v1h-1zM992 690h2v1h-2zM994 689h1v1h-1zM995 688h1v1h-1zM996 687h2v1h-2zM998 686h2v1h-2zM1000 685h2v1h-2zM1002 684h2v1h-2zM1004 683h2v1h-2zM1006 682h2v1h-2zM1008 681h2v1h-2zM1010 680h2v1h-2zM1012 679h1v1h-1zM1013 678h2v1h-2zM1015 677h2v1h-2zM1017 676h2v1h-2zM1019 675h2v1h-2zM1021 674h2v1h-2zM1023 673h2v1h-2zM1025 672h2v1h-2zM1027 671h1v1h-1zM1028 670h1v1h-1zM1029 669h2v1h-2zM1031 668h1v1h-1zM1032 667h1v1h-1zM1033 666h2v1h-2zM1035 665h1v1h-1zM1036 664h1v1h-1zM1037 663h1v1h-1zM1038 662h2v1h-2zM1040 661h1v1h-1zM1041 660h1v1h-1zM1042 659h2v1h-2zM1044 658h1v1h-1zM1045 657h1v1h-1zM1046 656h1v1h-1zM1047 655h2v1h-2zM1049 654h1v1h-1zM1050 653h1v1h-1zM1051 652h1v1h-1zM1052 651h2v1h-2zM1054 650h1v1h-1zM1055 649h1v1h-1zM1056 648h2v1h-2zM1058 647h1v1h-1zM1059 646h5v1h-5zM1064 647h8v1h-8zM1072 648h8v1h-8zM1080 649h8v1h-8zM1088 650h4v1h-4zM1092 651h1v1h-1zM1093 652h1v1h-1zM1094 653h1v2h-1zM1095 655h1v1h-1zM1096 656h1v1h-1zM1097 657h1v1h-1zM1098 658h1v1h-1zM1099 659h1v2h-1zM1100 661h1v1h-1zM1101 662h1v1h-1zM1102 663h1v1h-1zM1103 664h1v1h-1zM1104 665h1v2h-1zM1105 667h1v1h-1zM1106 668h1v1h-1zM1107 669h1v1h-1zM1108 670h1v1h-1zM1109 671h1v1h-1zM1110 672h1v2h-1zM1111 674h1v1h-1zM1112 675h1v1h-1zM1113 676h1v1h-1zM1114 677h1v1h-1zM1115 678h1v2h-1zM1116 680h1v1h-1zM1117 681h1v1h-1zM1118 682h1v1h-1zM1119 683h1v1h-1zM1120 684h1v2h-1zM1121 686h1v1h-1zM1122 687h1v1h-1zM1123 688h1v1h-1zM1124 689h2v1h-2zM1126 690h2v1h-2zM1128 691h2v1h-2zM1130 692h2v1h-2zM1132 693h2v1h-2zM1134 694h2v1h-2zM1136 695h2v1h-2zM1138 696h2v1h-2zM1140 697h1v1h-1zM1141 698h2v1h-2zM1143 699h2v1h-2zM1145 700h2v1h-2zM1147 701h2v1h-2zM1149 702h2v1h-2zM1151 703h2v1h-2zM1153 704h2v1h-2zM1155 705h3v1h-3zM1158 706h6v1h-6zM1164 707h5v1h-5zM1169 708h5v1h-5zM1174 709h6v1h-6zM1180 710h5v1h-5zM1185 711h4v1h-4zM1189 712h2v1h-2zM1191 713h2v1h-2zM1193 714h3v1h-3zM1196 715h2v1h-2zM1198 716h2v1h-2zM1200 717h2v1h-2zM1202 718h3v1h-3zM1205 719h2v1h-2zM1207 720h2v1h-2zM1209 721h3v1h-3zM1212 722h2v1h-2zM1214 723h2v1h-2zM1216 724h2v1h-2zM1218 725h2v1h-2zM1220 726h2v1h-2zM1222 727h1v1h-1zM1223 728h2v1h-2zM1225 729h1v1h-1zM1226 730h2v1h-2zM1228 731h1v1h-1zM1229 732h2v1h-2zM1231 733h1v1h-1zM1232 734h2v1h-2zM1234 735h2v1h-2zM1236 736h1v1h-1zM1237 737h2v1h-2zM1239 738h1v1h-1zM1240 739h2v1h-2zM1242 740h1v1h-1zM1243 741h2v1h-2zM1245 742h1v1h-1zM1246 743h2v1h-2zM1248 744h1v1h-1zM1249 745h2v1h-2zM1251 746h1v1h-1zM1252 747h2v1h-2zM1254 748h1v1h-1zM1255 749h1v1h-1zM1256 750h2v1h-2zM1258 751h1v1h-1zM1259 752h1v1h-1zM1260 753h2v1h-2zM1262 754h1v1h-1zM1263 755h1v1h-1zM1264 756h2v1h-2zM1266 757h1v1h-1zM1267 758h1v1h-1zM1268 759h2v1h-2zM1270 760h1v1h-1zM1271 761h1v1h-1zM1272 762h2v1h-2zM1274 763h1v1h-1zM1275 764h1v1h-1zM1276 765h2v1h-2zM1278 766h1v1h-1zM1279 767h1v1h-1zM1280 768h2v1h-2zM1282 769h1v1h-1zM1283 770h1v1h-1zM1284 771h1v1h-1zM1285 772h1v1h-1zM1286 773h1v1h-1zM1287 774h1v1h-1zM1288 775h2v1h-2zM1290 776h1v1h-1zM1291 777h1v1h-1zM1292 778h1v1h-1zM1293 779h1v1h-1zM1294 780h1v1h-1zM1295 781h1v1h-1zM1296 782h1v1h-1zM1297 783h1v1h-1zM1298 784h2v1h-2zM1300 785h1v1h-1zM1301 786h1v1h-1zM1302 787h1v1h-1zM1303 788h1v1h-1zM1304 789h1v1h-1zM1305 790h1v1h-1zM1306 791h1v1h-1zM1307 792h1v1h-1zM1308 793h1v1h-1zM1309 794h2v1h-2zM1311 795h1v1h-1zM1312 796h1v1h-1zM1313 797h1v1h-1zM1314 798h1v1h-1zM1315 799h3v1h-3zM1318 800h4v1h-4zM1322 801h5v1h-5zM1327 802h5v1h-5zM1332 803h4v1h-4zM1336 804h5v1h-5zM1341 805h4v1h-4zM1345 806h8v1h-8zM1353 807h11v1h-11zM1364 808h10v1h-10zM1374 809h10v1h-10zM1384 810h8v1h-8zM1392 811h8v1h-8zM1400 812h8v1h-8zM1408 813h4v1h-4z"/>
<path class="pb" d="M3 596h5v1h-5zM8 595h8v1h-8zM16 594h8v1h-8zM24 593h8v1h-8zM32 592h7v1h-7zM39 591h6v1h-6zM45 590h7v1h-7zM52 589h6v1h-6zM58 588h6v1h-6zM64 587h9v1h-9zM73 586h11v1h-11zM84 585h10v1h-10zM94 584h22v1h-22zM116 583h32v1h-32zM148 584h18v1h-18zM166 585h6v1h-6zM172 586h5v1h-5zM177 587h5v1h-5zM182 588h6v1h-6zM188 589h5v1h-5zM193 590h4v1h-4zM197 591h4v1h-4zM201 592h3v1h-3zM204 593h4v1h-4zM208 594h4v1h-4zM212 595h3v1h-3zM215 596h4v1h-4zM219 597h3v1h-3zM222 598h4v1h-4zM226 599h3v1h-3zM229 600h3v1h-3zM232 601h4v1h-4zM236 602h3v1h-3zM239 603h3v1h-3zM242 604h3v1h-3zM245 605h3v1h-3zM248 606h4v1h-4zM252 607h3v1h-3zM255 608h3v1h-3zM258 609h3v1h-3zM261 610h4v1h-4zM265 611h3v1h-3zM268 612h4v1h-4zM272 613h4v1h-4zM276 614h3v1h-3zM279 615h4v1h-4zM283 616h3v1h-3zM286 617h4v1h-4zM290 618h3v1h-3zM293 619h3v1h-3zM296 620h4v1h-4zM300 621h3v1h-3zM303 622h3v1h-3zM306 623h3v1h-3zM309 624h3v1h-3zM312 625h4v1h-4zM316 626h3v1h-3zM319 627h3v1h-3zM322 628h3v1h-3zM325 629h3v1h-3zM328 630h3v1h-3zM331 631h3v1h-3zM334 632h3v1h-3zM337 633h3v1h-3zM340 634h2v1h-2zM342 635h3v1h-3zM345 636h3v1h-3zM348 637h3v1h-3zM351 638h3v1h-3zM354 639h3v1h-3zM357 640h3v1h-3zM360 641h4v1h-4zM364 642h3v1h-3zM367 643h3v1h-3zM370 644h3v1h-3zM373 645h3v1h-3zM376 646h4v1h-4zM380 647h3v1h-3zM383 648h3v1h-3zM386 649h3v1h-3zM389 650h3v1h-3zM392 651h2v1h-2zM394 652h3v1h-3zM397 653h3v1h-3zM400 654h2v1h-2zM402 655h3v1h-3zM405 656h3v1h-3zM408 657h2v1h-2zM410 658h3v1h-3zM413 659h3v1h-3zM416 660h2v1h-2zM418 661h3v1h-3zM421 662h3v1h-3zM424 663h2v1h-2zM426 664h3v1h-3zM429 665h3v1h-3zM432 666h2v1h-2zM434 667h3v1h-3zM437 668h3v1h-3zM440 669h2v1h-2zM442 670h3v1h-3zM445 671h3v1h-3zM448 672h2v1h-2zM450 673h3v1h-3zM453 674h3v1h-3zM456 675h2v1h-2zM458 676h3v1h-3zM461 677h3v1h-3zM464 678h2v1h-2zM466 679h3v1h-3zM469 680h3v1h-3zM472 681h2v1h-2zM474 682h3v1h-3zM477 683h3v1h-3zM480 684h2v1h-2zM482 685h3v1h-3zM485 686h2v1h-2zM487 687h3v1h-3zM490 688h2v1h-2zM492 689h3v1h-3zM495 690h2v1h-2zM497 691h3v1h-3zM500 692h2v1h-2zM502 693h2v1h-2zM504 694h3v1h-3zM507 695h2v1h-2zM509 696h3v1h-3zM512 697h2v1h-2zM514 698h3v1h-3zM517 699h2v1h-2zM519 700h2v1h-2zM521 701h3v1h-3zM524 702h2v1h-2zM526 703h2v1h-2zM528 704h2v1h-2zM530 705h3v1h-3zM533 706h2v1h-2zM535 707h2v1h-2zM537 708h3v1h-3zM540 709h2v1h-2zM542 710h2v1h-2zM544 711h2v1h-2zM546 712h3v1h-3zM549 713h2v1h-2zM551 714h2v1h-2zM553 715h2v1h-2zM555 716h2v1h-2zM557 717h2v1h-2zM559 718h2v1h-2zM561 719h3v1h-3zM564 720h2v1h-2zM566 721h2v1h-2zM568 722h2v1h-2zM570 723h2v1h-2zM572 724h2v1h-2zM574 725h2v1h-2zM576 726h2v1h-2zM578 727h3v1h-3zM581 728h2v1h-2zM583 729h2v1h-2zM585 730h2v1h-2zM587 731h2v1h-2zM589 732h2v1h-2zM591 733h2v1h-2zM593 734h2v1h-2zM595 735h2v1h-2zM597 736h2v1h-2zM599 737h2v1h-2zM601 738h2v1h-2zM603 739h2v1h-2zM605 740h2v1h-2zM607 741h2v1h-2zM609 742h2v1h-2zM611 743h2v1h-2zM613 744h2v1h-2zM615 745h2v1h-2zM617 746h3v1h-3zM620 747h2v1h-2zM622 748h2v1h-2zM624 749h2v1h-2zM626 750h3v1h-3zM629 751h2v1h-2zM631 752h2v1h-2zM633 753h3v1h-3zM636 754h2v1h-2zM638 755h2v1h-2zM640 756h2v1h-2zM642 757h3v1h-3zM645 758h3v1h-3zM648 759h2v1h-2zM650 760h3v1h-3zM653 761h3v1h-3zM656 762h2v1h-2zM658 763h3v1h-3zM661 764h3v1h-3zM664 765h2v1h-2zM666 766h3v1h-3zM669 767h3v1h-3zM672 768h2v1h-2zM674 769h4v1h-4zM678 770h4v1h-4zM682 771h4v1h-4zM686 772h4v1h-4zM690 773h4v1h-4zM694 774h4v1h-4zM698 775h4v1h-4zM702 776h4v1h-4zM706 777h4v1h-4zM710 778h6v1h-6zM716 779h5v1h-5zM721 780h5v1h-5zM726 781h6v1h-6zM732 782h5v1h-5zM737 783h7v1h-7zM744 784h8v1h-8zM752 785h8v1h-8zM760 786h8v1h-8zM768 787h12v1h-12zM780 786h16v1h-16zM796 785h12v1h-12zM808 784h8v1h-8zM816 783h8v1h-8zM824 782h8v1h-8zM832 781h6v1h-6zM838 780h6v1h-6zM844 779h5v1h-5zM849 778h5v1h-5zM854 777h6v1h-6zM860 776h5v1h-5zM865 775h5v1h-5zM870 774h4v1h-4zM874 773h4v1h-4zM878 772h4v1h-4zM882 771h4v1h-4zM886 770h4v1h-4zM890 769h4v1h-4zM894 768h4v1h-4zM898 767h4v1h-4zM902 766h4v1h-4zM906 765h5v1h-5zM911 764h5v1h-5zM916 763h4v1h-4zM920 762h5v1h-5zM925 761h4v1h-4zM929 760h4v1h-4zM933 759h4v1h-4zM937 758h3v1h-3zM940 757h4v1h-4zM944 756h4v1h-4zM948 755h3v1h-3zM951 754h4v1h-4zM955 753h3v1h-3zM958 752h4v1h-4zM962 751h3v1h-3zM965 750h3v1h-3zM968 749h4v1h-4zM972 748h3v1h-3zM975 747h3v1h-3zM978 746h3v1h-3zM981 745h3v1h-3zM984 744h4v1h-4zM988 743h3v1h-3zM991 742h3v1h-3zM994 741h3v1h-3zM997 740h2v1h-2zM999 739h3v1h-3zM1002 738h2v1h-2zM1004 737h3v1h-3zM1007 736h2v1h-2zM1009 735h3v1h-3zM1012 734h2v1h-2zM1014 733h2v1h-2zM1016 732h3v1h-3zM1019 731h2v1h-2zM1021 730h3v1h-3zM1024 729h2v1h-2zM1026 728h3v1h-3zM1029 727h2v1h-2zM1031 726h3v1h-3zM1034 725h2v1h-2zM1036 724h3v1h-3zM1039 723h2v1h-2zM1041 722h3v1h-3zM1044 721h2v1h-2zM1046 720h2v1h-2zM1048 719h3v1h-3zM1051 718h2v1h-2zM1053 717h3v1h-3zM1056 716h2v1h-2zM1058 715h3v1h-3zM1061 714h3v1h-3zM1064 713h2v1h-2zM1066 712h3v1h-3zM1069 711h3v1h-3zM1072 710h2v1h-2zM1074 709h3v1h-3zM1077 708h3v1h-3zM1080 707h2v1h-2zM1082 706h3v1h-3zM1085 705h3v1h-3zM1088 704h2v1h-2zM1090 703h4v1h-4zM1094 702h6v1h-6zM1100 701h5v1h-5zM1105 700h5v1h-5zM1110 699h6v1h-6zM1116 698h5v1h-5zM1121 697h7v1h-7zM1128 696h8v1h-8zM1136 695h8v1h-8zM1144 694h8v1h-8zM1152 693h9v1h-9zM1161 692h11v1h-11zM1172 691h10v1h-10zM1182 690h14v1h-14zM1196 689h16v1h-16zM1212 688h12v1h-12zM1224 689h8v1h-8zM1232 690h8v1h-8zM1240 691h8v1h-8zM1248 692h5v1h-5zM1253 693h4v1h-4zM1257 694h3v1h-3zM1260 695h4v1h-4zM1264 696h4v1h-4zM1268 697h3v1h-3zM1271 698h4v1h-4zM1275 699h3v1h-3zM1278 700h4v1h-4zM1282 701h3v1h-3zM1285 702h2v1h-2zM1287 703h2v1h-2zM1289 704h2v1h-2zM1291 705h2v1h-2zM1293 706h2v1h-2zM1295 707h2v1h-2zM1297 708h3v1h-3zM1300 709h2v1h-2zM1302 710h2v1h-2zM1304 711h2v1h-2zM1306 712h2v1h-2zM1308 713h2v1h-2zM1310 714h2v1h-2zM1312 715h2v1h-2zM1314 716h2v1h-2zM1316 717h2v1h-2zM1318 718h2v1h-2zM1320 719h2v1h-2zM1322 720h2v1h-2zM1324 721h2v1h-2zM1326 722h2v1h-2zM1328 723h2v1h-2zM1330 724h2v1h-2zM1332 725h1v1h-1zM1333 726h2v1h-2zM1335 727h2v1h-2zM1337 728h2v1h-2zM1339 729h2v1h-2zM1341 730h2v1h-2zM1343 731h2v1h-2zM1345 732h2v1h-2zM1347 733h1v1h-1zM1348 734h2v1h-2zM1350 735h2v1h-2zM1352 736h2v1h-2zM1354 737h2v1h-2zM1356 738h1v1h-1zM1357 739h2v1h-2zM1359 740h2v1h-2zM1361 741h2v1h-2zM1363 742h1v1h-1zM1364 743h2v1h-2zM1366 744h2v1h-2zM1368 745h2v1h-2zM1370 746h2v1h-2zM1372 747h1v1h-1zM1373 748h2v1h-2zM1375 749h2v1h-2zM1377 750h2v1h-2zM1379 751h2v1h-2zM1381 752h2v1h-2zM1383 753h2v1h-2zM1385 754h3v1h-3zM1388 755h2v1h-2zM1390 756h2v1h-2zM1392 757h2v1h-2zM1394 758h3v1h-3zM1397 759h2v1h-2zM1399 760h2v1h-2zM1401 761h3v1h-3zM1404 762h2v1h-2zM1406 763h2v1h-2zM1408 764h2v1h-2zM1410 765h2v1h-2z"/>
</g>
<g class="cb">
<rect x="2" y="2" width="1501" height="1"/>
<rect x="2" y="2" width="1" height="550"/>
<rect x="2" y="551" width="1501" height="1"/>
<rect x="1502" y="2" width="1" height="550"/>
<rect x="2" y="553" width="1501" height="1"/>
<rect x="2" y="553" width="1" height="274"/>
<rect x="2" y="826" width="1501" height="1"/>
<rect x="1502" y="553" width="1" height="274"/>
<rect x="1503" y="42" width="2" height="1"/>
<rect x="1503" y="91" width="2" height="1"/>
<rect x="1503" y="140" width="2" height="1"/>
<rect x="1503" y="189" width="2" height="1"/>
<rect x="1503" y="238" width="2" height="1"/>
<rect x="1503" y="287" width="2" height="1"/>
<rect x="1503" y="336" width="2" height="1"/>
<rect x="1503" y="385" width="2" height="1"/>
<rect x="1503" y="434" width="2" height="1"/>
<rect x="1503" y="483" width="2" height="1"/>
<rect x="1503" y="555" width="1" height="1"/>
<rect x="1503" y="809" width="2" height="1"/>
<rect x="1503" y="826" width="2" height="1"/>
<rect x="3" y="827" width="1" height="3"/>
<rect x="99" y="827" width="1" height="3"/>
<rect x="195" y="827" width="1" height="3"/>
<rect x="291" y="827" width="1" height="3"/>
<rect x="387" y="827" width="1" height="3"/>
<rect x="483" y="827" width="1" height="3"/>
<rect x="579" y="827" width="1" height="3"/>
<rect x="675" y="827" width="1" height="3"/>
<rect x="771" y="827" width="1" height="3"/>
<rect x="867" y="827" width="1" height="3"/>
<rect x="963" y="827" width="1" height="3"/>
<rect x="1059" y="827" width="1" height="3"/>
<rect x="1155" y="827" width="1" height="3"/>
<rect x="1251" y="827" width="1" height="3"/>
<rect x="1347" y="827" width="1" height="3"/>
</g>
<path d="M6 10H15L10.5 15Z" fill="#000" shape-rendering="crispEdges"/>
<text x="20.7" y="17" textLength="75.5" lengthAdjust="spacingAndGlyphs">AUDUSD,Daily</text>
<text x="104" y="17" textLength="196" lengthAdjust="spacingAndGlyphs">0.77326 0.77407 0.77250 0.77283</text>
<text x="7.3" y="569" textLength="84.5" lengthAdjust="spacingAndGlyphs">MACD(12,26,9)</text>
<text x="96" y="569" textLength="57" lengthAdjust="spacingAndGlyphs">-0.000169</text>
<text x="157" y="569" textLength="53" lengthAdjust="spacingAndGlyphs">0.001743</text>
<text x="218" y="569" textLength="46.5" lengthAdjust="spacingAndGlyphs">-&gt;MA(1)</text>
<text x="269" y="569" textLength="57" lengthAdjust="spacingAndGlyphs">-0.000169</text>
<text x="1509" y="47" textLength="46" lengthAdjust="spacingAndGlyphs">0.79950</text>
<text x="1509" y="96" textLength="46" lengthAdjust="spacingAndGlyphs">0.79525</text>
<text x="1509" y="145" textLength="46" lengthAdjust="spacingAndGlyphs">0.79100</text>
<text x="1509" y="194" textLength="46" lengthAdjust="spacingAndGlyphs">0.78670</text>
<text x="1509" y="243" textLength="46" lengthAdjust="spacingAndGlyphs">0.78245</text>
<text x="1509" y="292" textLength="46" lengthAdjust="spacingAndGlyphs">0.77815</text>
<text x="1509" y="341" textLength="46" lengthAdjust="spacingAndGlyphs">0.77390</text>
<text x="1509" y="390" textLength="46" lengthAdjust="spacingAndGlyphs">0.76960</text>
<text x="1509" y="439" textLength="46" lengthAdjust="spacingAndGlyphs">0.76535</text>
<text x="1509" y="488" textLength="46" lengthAdjust="spacingAndGlyphs">0.76105</text>
<rect x="1504" y="341" width="56" height="14" fill="#000" shape-rendering="crispEdges"/>
<text class="wt" x="1509" y="353" textLength="46" lengthAdjust="spacingAndGlyphs">0.77283</text>
<rect x="1504" y="347" width="56" height="14" fill="#ff0000" shape-rendering="crispEdges"/>
<text class="wt" x="1509" y="359" textLength="46" lengthAdjust="spacingAndGlyphs">0.77243</text>
<rect x="1504" y="526" width="56" height="14" fill="#ff0000" shape-rendering="crispEdges"/>
<text class="wt" x="1509" y="538" textLength="46" lengthAdjust="spacingAndGlyphs">0.75685</text>
<text x="1506" y="567" textLength="53" lengthAdjust="spacingAndGlyphs">0.010039</text>
<text x="1506" y="814" textLength="25" lengthAdjust="spacingAndGlyphs">0.00</text>
<text x="1506" y="823" textLength="57" lengthAdjust="spacingAndGlyphs">-0.000656</text>
<text x="1.3" y="842" textLength="60.9" lengthAdjust="spacingAndGlyphs">8 Jan 2021</text>
<text x="98.3" y="842" textLength="66.4" lengthAdjust="spacingAndGlyphs">13 Jan 2021</text>
<text x="194.3" y="842" textLength="66.4" lengthAdjust="spacingAndGlyphs">18 Jan 2021</text>
<text x="289.3" y="842" textLength="66.9" lengthAdjust="spacingAndGlyphs">21 Jan 2021</text>
<text x="385.8" y="842" textLength="66.9" lengthAdjust="spacingAndGlyphs">26 Jan 2021</text>
<text x="481.3" y="842" textLength="67.4" lengthAdjust="spacingAndGlyphs">29 Jan 2021</text>
<text x="577.8" y="842" textLength="61.9" lengthAdjust="spacingAndGlyphs">3 Feb 2021</text>
<text x="673.3" y="842" textLength="62.4" lengthAdjust="spacingAndGlyphs">8 Feb 2021</text>
<text x="770.8" y="842" textLength="68.4" lengthAdjust="spacingAndGlyphs">11 Feb 2021</text>
<text x="866.3" y="842" textLength="68.4" lengthAdjust="spacingAndGlyphs">16 Feb 2021</text>
<text x="962.3" y="842" textLength="68.4" lengthAdjust="spacingAndGlyphs">19 Feb 2021</text>
<text x="1057.3" y="842" textLength="69.4" lengthAdjust="spacingAndGlyphs">24 Feb 2021</text>
<text x="1154.8" y="842" textLength="59.9" lengthAdjust="spacingAndGlyphs">1 Mar 2021</text>
<text x="1249.3" y="842" textLength="61.4" lengthAdjust="spacingAndGlyphs">4 Mar 2021</text>
<text x="1345.8" y="842" textLength="61.9" lengthAdjust="spacingAndGlyphs">9 Mar 2021</text>
</svg></body></html>
